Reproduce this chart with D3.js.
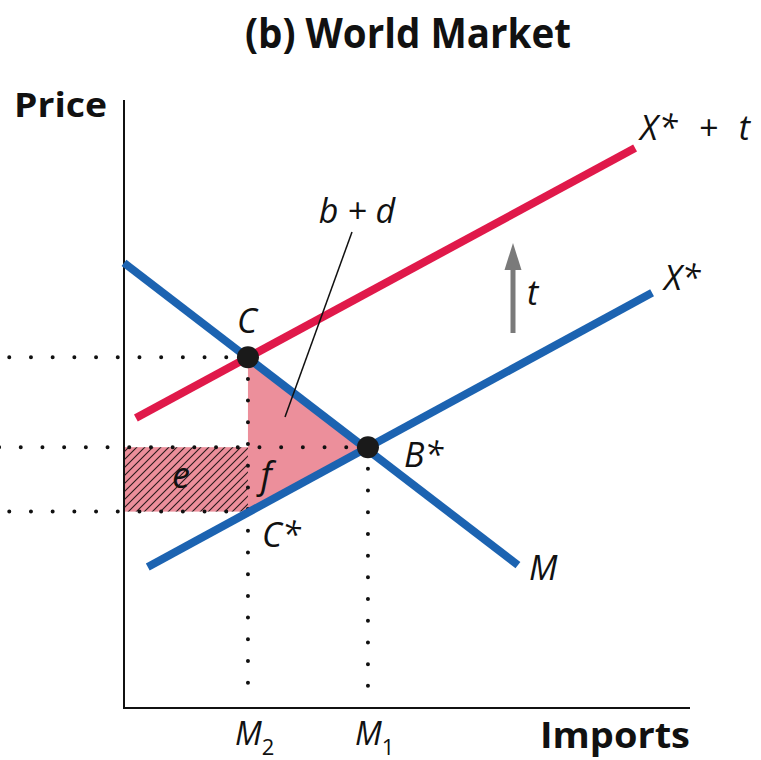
<!DOCTYPE html>
<html>
<head>
<meta charset="utf-8">
<script src="https://cdn.jsdelivr.net/npm/d3@7"></script>
<style>
  html, body { margin: 0; padding: 0; background: #fff; }
  svg { display: block; }
  .lab { font-family: "Open Sans", "DejaVu Sans", sans-serif; font-style: italic; fill: #111; }
  .bold { font-family: "Open Sans", "DejaVu Sans", sans-serif; font-weight: 700; fill: #111; }
</style>
</head>
<body>
<svg id="chart" width="761" height="760"></svg>
<script>
// ---- data (abstract units: quantity of imports 0..100, price 0..100) ----
const importDemandM = [[0, 73.2], [69.6, 23.5]];          // M
const exportSupplyX = [[4.2, 23.2], [93.3, 68.3]];        // X*
const exportSupplyXt = [[2.1, 47.7], [90.3, 92.1]];       // X* + t
const quantities = { M2: 21.9, M1: 43.1 };
const prices = { tariff: 57.7, world: 42.9, exporter: 32.3 };
const tickLabels = ["M2", "M1"];
const curveLabels = ["M", "X*", "X*  +  t"];
const areaLabels = ["b + d", "e", "f"];

const svg = d3.select("#chart");
const x = d3.scaleLinear().domain([0, 100]).range([124, 690]);
const y = d3.scaleLinear().domain([0, 100]).range([708, 100]);

const blue = "#1c63b1", red = "#e0194a", pink = "#ec8f9b";

// hatch pattern
const defs = svg.append("defs");
const pat = defs.append("pattern").attr("id", "hatch")
  .attr("patternUnits", "userSpaceOnUse").attr("width", 8).attr("height", 8);
pat.append("rect").attr("width", 8).attr("height", 8).attr("fill", pink);
pat.append("path").attr("d", "M0,8 L8,0 M-2,2 L2,-2 M6,10 L10,6")
  .attr("stroke", "#2a1a1a").attr("stroke-width", 1.1);

// title
svg.append("text").attr("class", "bold").attr("x", 408).attr("y", 48)
  .attr("text-anchor", "middle").attr("font-size", 42)
  .attr("textLength", 326).attr("lengthAdjust", "spacingAndGlyphs")
  .text("(b) World Market");

// pink triangle (b + d + f)
const tri = [[quantities.M2, prices.tariff], [quantities.M1, prices.world], [quantities.M2, prices.exporter]];
svg.append("path")
  .attr("d", d3.line().x(d => x(d[0])).y(d => y(d[1]))(tri) + "Z")
  .attr("fill", pink);

// hatched rectangle e
svg.append("rect")
  .attr("x", x(0)).attr("y", y(prices.world))
  .attr("width", x(quantities.M2) - x(0))
  .attr("height", y(prices.exporter) - y(prices.world))
  .attr("fill", "url(#hatch)");

// axes
svg.append("line").attr("x1", x(0)).attr("x2", x(0)).attr("y1", y(100)).attr("y2", y(0))
  .attr("stroke", "#111").attr("stroke-width", 2);
svg.append("line").attr("x1", x(0) - 1).attr("x2", x(100)).attr("y1", y(0)).attr("y2", y(0))
  .attr("stroke", "#111").attr("stroke-width", 2);

// dotted guides
const dotted = (x1, y1, x2, y2) => svg.append("line")
  .attr("x1", x1).attr("y1", y1).attr("x2", x2).attr("y2", y2)
  .attr("stroke", "#111").attr("stroke-width", 4)
  .attr("stroke-linecap", "round").attr("stroke-dasharray", "0 21.7");
dotted(x(quantities.M2), y(prices.tariff), x(-22.5), y(prices.tariff));
dotted(x(quantities.M1), y(prices.world), x(-22.5), y(prices.world));
dotted(x(quantities.M2), y(prices.exporter), x(-22.5), y(prices.exporter));
dotted(x(quantities.M2), y(prices.tariff), x(quantities.M2), y(0) - 10);
dotted(x(quantities.M1), y(prices.world), x(quantities.M1), y(0) - 10);

// curves
const line = d3.line().x(d => x(d[0])).y(d => y(d[1]));
svg.append("path").attr("d", line(exportSupplyXt)).attr("stroke", red).attr("stroke-width", 8).attr("fill", "none");
svg.append("path").attr("d", line(exportSupplyX)).attr("stroke", blue).attr("stroke-width", 8).attr("fill", "none");
svg.append("path").attr("d", line(importDemandM)).attr("stroke", blue).attr("stroke-width", 8).attr("fill", "none");

// equilibrium points
svg.append("circle").attr("cx", x(quantities.M2)).attr("cy", y(prices.tariff)).attr("r", 11).attr("fill", "#1a1a1a");
svg.append("circle").attr("cx", x(quantities.M1)).attr("cy", y(prices.world)).attr("r", 11).attr("fill", "#1a1a1a");

// leader line for b + d
svg.append("line").attr("x1", 352).attr("y1", 232).attr("x2", 285).attr("y2", 417)
  .attr("stroke", "#111").attr("stroke-width", 1.5);

// tariff arrow
svg.append("line").attr("x1", 513).attr("y1", 333).attr("x2", 513).attr("y2", 262)
  .attr("stroke", "#7a7a7a").attr("stroke-width", 5);
svg.append("path").attr("d", "M513,243 L504.5,270 L521.5,270 Z").attr("fill", "#7a7a7a");

// labels
const lab = (tx, ty, s, size, anchor) => svg.append("text").attr("class", "lab")
  .attr("x", tx).attr("y", ty).attr("font-size", size || 32)
  .attr("text-anchor", anchor || "start").style("white-space", "pre").text(s);

svg.append("text").attr("class", "bold").attr("x", 14).attr("y", 117).attr("font-size", 34)
  .attr("textLength", 93).attr("lengthAdjust", "spacingAndGlyphs").text("Price");
svg.append("text").attr("class", "bold").attr("x", 690).attr("y", 748).attr("font-size", 36)
  .attr("text-anchor", "end").attr("textLength", 150).attr("lengthAdjust", "spacingAndGlyphs").text("Imports");

lab(247, 333, "C", 34, "middle");
lab(404, 467, "B*", 34);
lab(262, 547, "C*", 34);
lab(529, 580, curveLabels[0], 34);
lab(664, 290, curveLabels[1], 34);
lab(640, 140, curveLabels[2], 34).attr("textLength", 110).attr("lengthAdjust", "spacing");
lab(527, 305, "t", 34);
lab(357, 223, areaLabels[0], 34, "middle");
lab(181, 488, areaLabels[1], 36, "middle");
lab(266, 488, areaLabels[2], 36, "middle");

// axis quantity labels with subscripts
[[quantities.M2, tickLabels[0]], [quantities.M1, tickLabels[1]]].forEach(([q, s]) => {
  const t = svg.append("text").attr("class", "lab").attr("x", x(q) - 13).attr("y", 745)
    .attr("font-size", 32);
  t.append("tspan").text(s[0]);
  t.append("tspan").attr("dy", 10).attr("font-size", 22).attr("font-style", "normal").text(s.slice(1));
});
</script>
</body>
</html>
